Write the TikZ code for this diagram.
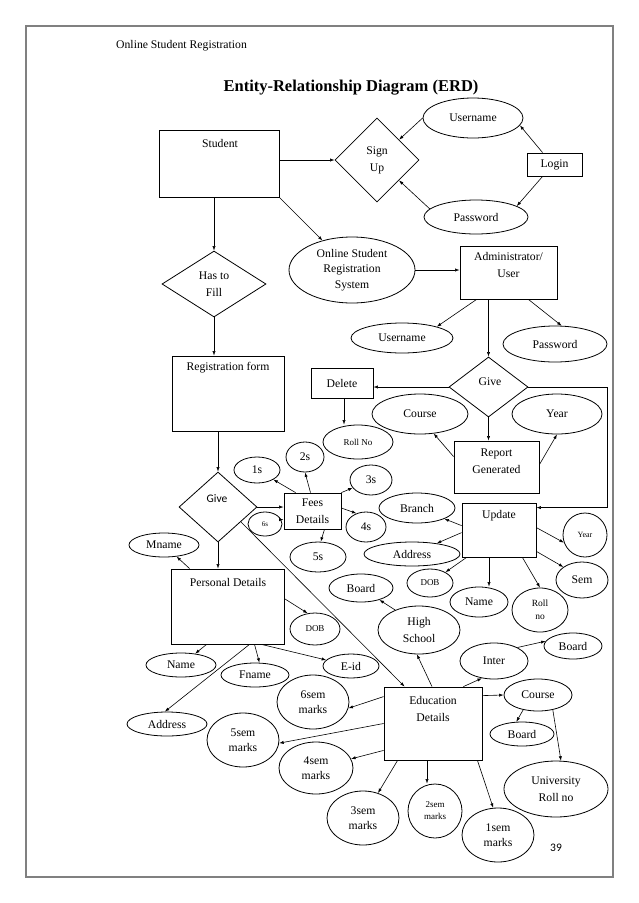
\documentclass[tikz,border=0pt]{standalone}
\usepackage{fontspec}
\setmainfont{Liberation Serif}
\newfontfamily\calib{Carlito}
\usetikzlibrary{shapes.geometric,arrows.meta,calc}
\begin{document}
\begin{tikzpicture}[x=1pt,y=-1pt,
  every node/.style={font=\fontsize{11.7}{17}\selectfont},
  sz/.style 2 args={minimum width=#1,minimum height=#2},
  box/.style={draw,rectangle,line width=0.8pt,inner sep=0pt,align=center},
  attr/.style={draw,ellipse,line width=0.8pt,inner sep=0pt,align=center},
  rel/.style={draw,diamond,line width=0.8pt,inner sep=0pt,align=center},
  txt/.style={align=center,inner sep=0pt},
  small/.style={font=\fontsize{9}{12}\selectfont},
  marks/.style={font=\fontsize{11.7}{15.5}\selectfont},
  arr/.style={-{Latex[length=4.5pt,width=3.2pt]},line width=0.6pt},
]
\useasboundingbox (0,0) rectangle (638,903);
\draw[color=black!50,line width=1.4pt] (26,26) rectangle (613,877);

\node[anchor=west,inner sep=0pt] (hdr) at (116,46) {Online Student Registration};
\node[font=\fontsize{16.5}{19}\selectfont\bfseries] (title) at (351,88) {Entity-Relationship Diagram (ERD)};

% ---- top part
\node[box,sz={120}{67}] (student) at (219,163.5) {};
\node[txt] (studentT) at (220,143) {Student};
\node[rel,sz={84}{84}] (signup) at (377,160) {Sign\\Up};
\node[attr,sz={100}{40}] (user1) at (473,118) {Username};
\node[attr,sz={104}{34}] (pass1) at (476,217) {Password};
\node[box,sz={55}{23}] (login) at (554.5,164.5) {Login};
\node[rel,sz={104}{66}] (hasfill) at (214,284) {Has to\\Fill};
\node[attr,sz={126}{66},font=\fontsize{11.7}{15.5}\selectfont] (osrs) at (352,270) {Online Student\\Registration\\System};
\node[box,sz={97}{53}] (admin) at (508.5,272.5) {};
\node[txt] (adminT) at (508.5,265) {Administrator/\\User};
\node[attr,sz={102}{30}] (user2) at (402,338) {Username};
\node[attr,sz={104}{36}] (pass2) at (555,344) {Password};

% ---- middle
\node[box,sz={112}{75}] (regform) at (228,393.5) {};
\node[txt] (regformT) at (228,368) {Registration form};
\node[rel,sz={79}{60}] (give2) at (488.5,387) {};
\node[txt] (give2T) at (490,382) {Give};
\node[box,sz={62}{30}] (delete) at (342,383) {Delete};
\node[attr,sz={70}{34},small] (rollno) at (358,442) {Roll No};
\node[attr,sz={96}{40}] (course1) at (420,414) {Course};
\node[attr,sz={90}{40}] (year1) at (557,414) {Year};
\node[box,sz={85}{52}] (report) at (496.5,467) {};
\node[txt] (reportT) at (496.5,461) {Report\\Generated};
\node[box,sz={74}{54}] (update) at (499,530) {};
\node[txt] (updateT) at (499,516) {Update};
\node[attr,sz={76}{30}] (branch) at (417,508) {Branch};
\node[attr,sz={96}{24}] (addr1) at (412,554) {Address};
\node[attr,sz={46}{28},small] (dob1) at (430,583) {DOB};
\node[attr,sz={58}{30}] (name1) at (479,602) {Name};
\node[attr,sz={56}{44},font=\fontsize{9.5}{13}\selectfont] (rollno2) at (540,610) {Roll\\no};
\node[attr,sz={44}{44},font=\fontsize{8}{10}\selectfont] (year2) at (585,535) {Year};
\node[attr,sz={52}{36}] (sem) at (582,580) {Sem};

% ---- fees
\node[rel,sz={78}{70}] (give1) at (218,507) {};
\node[txt,font=\calib\fontsize{11.5}{14}\selectfont] (give1T) at (217,499) {Give};
\node[box,sz={57}{36}] (fees) at (312.5,511) {Fees\\Details};
\node[attr,sz={46}{26}] (s1) at (257,470) {1s};
\node[attr,sz={38}{30}] (s2) at (305,457) {2s};
\node[attr,sz={42}{30}] (s3) at (371,480) {3s};
\node[attr,sz={40}{30}] (s4) at (366,527) {4s};
\node[attr,sz={56}{30}] (s5) at (318,557) {5s};
\node[attr,sz={34}{24},font=\fontsize{7}{8}\selectfont] (s6) at (265,524) {6s};

% ---- personal
\node[box,sz={113}{75}] (personal) at (227.5,606.5) {};
\node[txt] (personalT) at (228,582) {Personal Details};
\node[attr,sz={70}{24}] (mname) at (164,545) {Mname};
\node[attr,sz={50}{32},small] (dob2) at (315,629) {DOB};
\node[attr,sz={70}{24}] (name2) at (181,665) {Name};
\node[attr,sz={68}{24}] (fname) at (255,675) {Fname};
\node[attr,sz={56}{24}] (eid) at (351,666) {E-id};
\node[attr,sz={80}{24}] (addr2) at (167,724) {Address};

% ---- education
\node[box,sz={98}{73}] (edu) at (433,723.5) {};
\node[txt] (eduT) at (433,708.5) {Education\\Details};
\node[attr,sz={82}{48}] (hs) at (419,630) {High\\School};
\node[attr,sz={64}{28}] (board1) at (361,588) {Board};
\node[attr,sz={68}{36}] (inter) at (494,661) {Inter};
\node[attr,sz={58}{26}] (board2) at (573,646) {Board};
\node[attr,sz={68}{32}] (course2) at (538,695) {Course};
\node[attr,sz={64}{24}] (board3) at (522,734) {Board};
\node[attr,sz={104}{56}] (univ) at (556,789) {University\\Roll no};
\node[attr,sz={72}{54},marks] (m1) at (498,835) {1sem\\marks};
\node[attr,sz={54}{54},small] (m2) at (435,811) {2sem\\marks};
\node[attr,sz={72}{54},marks] (m3) at (363,818) {3sem\\marks};
\node[attr,sz={74}{52},marks] (m4) at (316,768) {4sem\\marks};
\node[attr,sz={72}{54},marks] (m5) at (243,740) {5sem\\marks};
\node[attr,sz={72}{54},marks] (m6) at (313,702) {6sem\\marks};
\node[font=\calib\fontsize{11.5}{14}\selectfont] (pg) at (556,848) {39};

% ---- connectors: top
\draw[arr] (student.east |- signup.west) -- (signup.west);
\draw[arr] (user1.west) -- (signup);
\draw[arr] (pass1.170) -- (signup);
\draw[arr] ($(login.north west)+(16,0)$) -- (user1.-9);
\draw[arr] ($(login.south west)+(16,0)$) -- (pass1.15);
\draw[arr] (hasfill.north |- student.south) -- (hasfill.north);
\draw[arr] (student.south east) -- (osrs);
\draw[arr] (hasfill.south) -- (hasfill.south |- regform.north);
\draw[arr] (osrs.east) -- (osrs.east -| admin.west);
\draw[arr] ($(admin.south west)+(17,0)$) -- (user2.18);
\draw[arr] ($(admin.south east)+(-29,0)$) -- (pass2.70);
\draw[arr] (give2.north |- admin.south) -- (give2.north);

% ---- middle
\draw[arr] (give2.west) -- (give2.west -| delete.east);
\coordinate (d1) at ($(delete.south)+(2,0)$);
\draw[arr] (d1) -- (d1 |- rollno.north);
\draw[arr] (give2.south) -- (give2.south |- report.north);
\draw[arr] ($(report.north west)+(0,16)$) -- (course1.-55);
\draw[arr] ($(report.north east)+(0,24)$) -- (year1.south);
\coordinate (gc) at (607,387);
\draw[arr] (give2.east) -- (gc) |- ($(update.north east)+(0,5)$);
\draw[arr] ($(update.north west)+(0,23)$) -- (branch);
\draw[arr] ($(update.north west)+(0,30)$) -- (addr1);
\draw[arr] ($(update.south west)+(5,0)$) -- (dob1);
\coordinate (u1) at ($(update.south)+(-10,0)$);
\draw[arr] (u1) -- (u1 |- name1.north);
\draw[arr] ($(update.south east)+(-14,0)$) -- (rollno2.north);
\draw[arr] ($(update.north east)+(0,25)$) -- (year2.200);
\draw[arr] ($(update.south east)+(0,-6)$) -- (sem.145);

% ---- fees
\draw[arr] (regform.south -| give1.north) -- (give1.north);
\draw[arr] (give1.east) -- (give1.east -| fees.west);
\draw[arr] ($(fees.north west)+(12,0)$) -- (s1);
\draw[arr] ($(fees.north)+(-2,0)$) -- (s2.south);
\draw[arr] (fees.north east) -- (s3);
\draw[arr] ($(fees.east)+(0,-3)$) -- (s4.125);
\draw[arr] ($(fees.south)+(12,0)$) -- (s5.80);
\draw[arr] (s6.15) -- (s6.15 -| fees.west);

% ---- personal
\draw[arr] (give1.south) -- (give1.south |- personal.north);
\draw[arr] ($(personal.north west)+(19,0)$) -- (mname);
\draw[arr] ($(personal.north east)+(0,30)$) -- (dob2.115);
\draw[arr] ($(personal.south west)+(36,0)$) -- (name2);
\draw[arr] ($(personal.south)+(27,0)$) -- (fname.70);
\draw[arr] ($(personal.south)+(34,0)$) -- (eid);
\draw[arr] ($(personal.south)+(22,0)$) -- (addr2.100);

% ---- education
\draw[arr] (give1.-33) -- ($(edu.north west)+(21,0)$);
\draw[arr] ($(edu.north)+(-1,0)$) -- (hs.-95);
\draw[arr] (hs.140) -- (board1);
\draw[arr] ($(edu.north east)+(-19,0)$) -- (inter.-125);
\draw[arr] (inter.30) -- (board2.170);
\draw[arr] ($(edu.north east)+(0,9)$) -- (course2.west);
\draw[arr] (course2.-135) -- (board3.115);
\draw[arr] (course2.-45) -- (univ.80);
\draw[arr] ($(edu.south east)+(-5,0)$) -- (m1.100);
\coordinate (e2) at ($(edu.south)+(-6,0)$);
\draw[arr] (e2) -- (e2 |- m2.north);
\draw[arr] ($(edu.south west)+(14,0)$) -- (m3);
\draw[arr] ($(edu.south west)+(0,-10)$) -- (m4);
\draw[arr] (edu.west) -- (m5.-5);
\draw[arr] ($(edu.north west)+(0,10)$) -- (m6.-10);
\end{tikzpicture}
\end{document}
